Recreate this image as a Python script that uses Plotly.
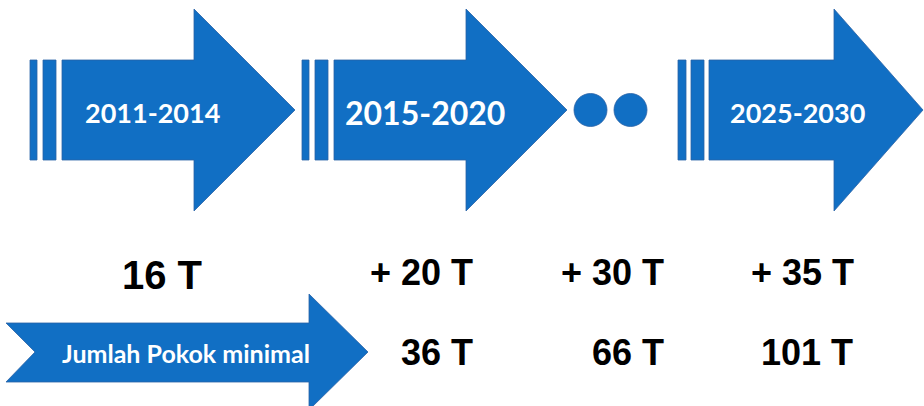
import plotly.graph_objects as go

# ---- content ----
periods = ["2011-2014", "2015-2020", "2025-2030"]
base_amount = 16                      # T, first period
increments = [20, 30, 35]             # T added per later stage
totals = [36, 66, 101]                # cumulative minimum (T)
footer_label = "Jumlah Pokok minimal"

# ---- styling / geometry ----
W, H = 924, 406
BLUE = "#116FC4"
EDGE = "#2A62A6"

# big arrows: (bar1, bar2, body start, head start, tip x)
arrow_geom = [
    ((30, 37), (43, 56), 62, 194, 295),
    ((302, 309), (315, 328), 334, 466, 567),
    ((678, 686), (691, 704), 709, 834, 923),
]
BODY_T, BODY_B, HEAD_T, HEAD_B, MID = 60, 160, 9, 211, 110
label_x = [152, 425, 797]
label_size = [27, 32, 27]

dot_x = [590.5, 630.5]
dot_r = 16.5

plus_x = [421, 612, 802]
total_x = [437, 628, 807]
ROW1_Y, ROW2_Y = 272, 352

fig = go.Figure()
shapes = []
annotations = []


def rect(x0, x1, y0, y1):
    return dict(type="rect", x0=x0, x1=x1, y0=y0, y1=y1, xref="x", yref="y",
                fillcolor=BLUE, line=dict(color=EDGE, width=0.8), layer="below")


for (b1, b2, bx, hx, tx), lab, lx, ls in zip(arrow_geom, periods, label_x, label_size):
    shapes.append(rect(b1[0], b1[1], BODY_T, BODY_B))
    shapes.append(rect(b2[0], b2[1], BODY_T, BODY_B))
    path = (f"M{bx},{BODY_T} L{hx},{BODY_T} L{hx},{HEAD_T} L{tx},{MID} "
            f"L{hx},{HEAD_B} L{hx},{BODY_B} L{bx},{BODY_B} Z")
    shapes.append(dict(type="path", path=path, xref="x", yref="y",
                       fillcolor=BLUE, line=dict(color=EDGE, width=0.8), layer="below"))
    annotations.append(dict(x=lx, y=MID + 2, text=f"<b>{lab}</b>", showarrow=False,
                            xref="x", yref="y",
                            font=dict(family="Lato", size=ls, color="white")))

for cx in dot_x:
    shapes.append(dict(type="circle", x0=cx - dot_r, x1=cx + dot_r,
                       y0=MID - dot_r, y1=MID + dot_r, xref="x", yref="y",
                       fillcolor=BLUE, line=dict(color=EDGE, width=0.8), layer="below"))

# bottom notched arrow
fp = ("M6,323 L309,323 L309,294 L368,352 L309,410 L309,382 L6,382 L35,352 Z")
shapes.append(dict(type="path", path=fp, xref="x", yref="y",
                   fillcolor=BLUE, line=dict(color=EDGE, width=0.8), layer="below"))
annotations.append(dict(x=186, y=353, text=f"<b>{footer_label}</b>", showarrow=False,
                        xref="x", yref="y",
                        font=dict(family="Lato", size=25, color="white")))

# amounts
BLACK_FONT = "Liberation Sans"
annotations.append(dict(x=162, y=275, text=f"<b>{base_amount} T</b>", showarrow=False,
                        xref="x", yref="y", font=dict(family=BLACK_FONT, size=40, color="black")))
for x, v in zip(plus_x, increments):
    annotations.append(dict(x=x, y=ROW1_Y, text=f"<b>+ {v} T</b>", showarrow=False,
                            xref="x", yref="y", font=dict(family=BLACK_FONT, size=36, color="black")))
for x, v in zip(total_x, totals):
    annotations.append(dict(x=x, y=ROW2_Y, text=f"<b>{v} T</b>", showarrow=False,
                            xref="x", yref="y", font=dict(family=BLACK_FONT, size=36, color="black")))

fig.update_layout(
    width=W, height=H,
    margin=dict(l=0, r=0, t=0, b=0),
    paper_bgcolor="white", plot_bgcolor="white",
    xaxis=dict(range=[0, W], visible=False, fixedrange=True),
    yaxis=dict(range=[H, 0], visible=False, fixedrange=True),
    shapes=shapes, annotations=annotations, showlegend=False,
)
fig.write_html("out.html", config={"displayModeBar": False})
